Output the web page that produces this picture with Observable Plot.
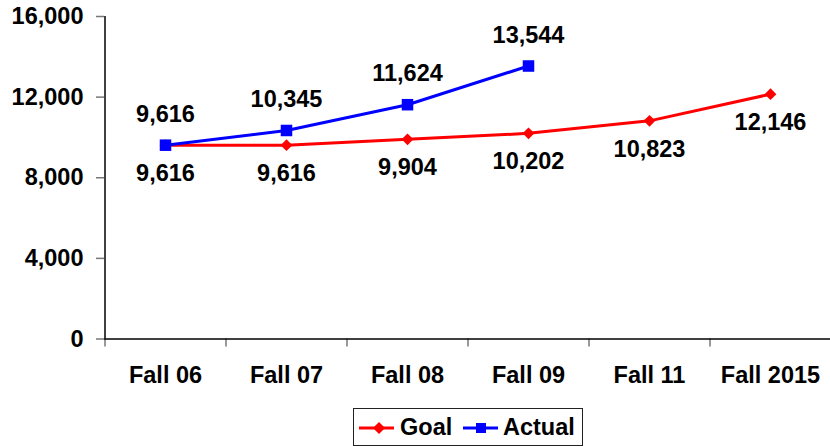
<!DOCTYPE html>
<html>
<head>
<meta charset="utf-8">
<script src="https://cdn.jsdelivr.net/npm/d3@7"></script>
<script src="https://cdn.jsdelivr.net/npm/@observablehq/plot@0.6"></script>
<style>
  body { margin: 0; background: #fff; font-family: "Liberation Sans", Arial, sans-serif; }
  #wrap { position: relative; width: 830px; height: 447px; }
  #legend {
    position: absolute; left: 353px; top: 408px; width: 228px; height: 36px;
    border: 1px solid #222; box-sizing: content-box;
    font-weight: bold; font-size: 23.5px; color: #000;
  }
  #legend .sym { position: absolute; top: 12px; }
  #legend .lab { position: absolute; top: 5px; line-height: 27px; }
</style>
</head>
<body>
<div id="wrap"><div id="chart"></div><div id="legend"></div></div>
<script>
const categories = ["Fall 06", "Fall 07", "Fall 08", "Fall 09", "Fall 11", "Fall 2015"];
const goalValues = [9616, 9616, 9904, 10202, 10823, 12146];
const actualCategories = ["Fall 06", "Fall 07", "Fall 08", "Fall 09"];
const actualValues = [9616, 10345, 11624, 13544];
const yTicks = [0, 4000, 8000, 12000, 16000];

const goal = categories.map((c, i) => ({cat: c, value: goalValues[i]}));
const actual = actualCategories.map((c, i) => ({cat: c, value: actualValues[i]}));

const W = 830, H = 404, mL = 104, mR = 0, mT = 16, mB = 65.5;
const step = (W - mL - mR) / categories.length;
const fmt = d3.format(",");
const RED = "#ff0000", BLUE = "#0000ff";
const FS = 23.5;

const chart = Plot.plot({
  width: W, height: H,
  marginLeft: mL, marginRight: mR, marginTop: mT, marginBottom: mB,
  style: {fontFamily: "'Liberation Sans', Arial, sans-serif", fontSize: FS + "px", fontWeight: "bold", color: "#000", background: "#fff"},
  x: {type: "point", domain: categories, padding: 0.5, label: null},
  y: {domain: [0, 16000], label: null},
  marks: [
    Plot.axisY({ticks: yTicks, tickSize: 8, tickPadding: 13, tickFormat: fmt, stroke: "#777", strokeWidth: 1.5, fill: "#000", label: null}),
    Plot.axisX({tickSize: 8, tickFormat: () => "", dx: -step / 2, stroke: "#777", strokeWidth: 1.5, label: null}),
    Plot.axisX({tickSize: 0, tickPadding: 27, fill: "#000", label: null}),
    Plot.ruleY([0], {stroke: "#000", strokeWidth: 1.5}),
    Plot.ruleX([categories[0]], {y1: 0, y2: 16000, dx: -step / 2, stroke: "#000", strokeWidth: 1.5}),
    Plot.line(goal, {x: "cat", y: "value", stroke: RED, strokeWidth: 3}),
    Plot.dot(goal, {x: "cat", y: "value", symbol: "diamond2", r: 5.3, fill: RED, stroke: null}),
    Plot.line(actual, {x: "cat", y: "value", stroke: BLUE, strokeWidth: 3}),
    Plot.dot(actual, {x: "cat", y: "value", symbol: "square", r: 6.5, fill: BLUE, stroke: null}),
    Plot.text(goal, {x: "cat", y: "value", text: d => fmt(d.value), dy: 28.5, fill: "#000", fontSize: FS, fontWeight: "bold"}),
    Plot.text(actual, {x: "cat", y: "value", text: d => fmt(d.value), dy: -31, fill: "#000", fontSize: FS, fontWeight: "bold"})
  ]
});
document.getElementById("chart").appendChild(chart);

const legend = document.getElementById("legend");
function legendItem(color, shape, label, symLeft, labLeft) {
  const shapeSvg = shape === "diamond"
    ? `<polygon points="20,1 26,7 20,13 14,7" fill="${color}"/>`
    : `<rect x="13" y="2" width="10" height="10" fill="${color}"/>`;
  const sym = document.createElement("div");
  sym.className = "sym";
  sym.style.left = symLeft + "px";
  sym.innerHTML = `<svg width="35" height="14" style="display:block"><line x1="0" y1="7" x2="35" y2="7" stroke="${color}" stroke-width="3"/>${shapeSvg}</svg>`;
  const lab = document.createElement("div");
  lab.className = "lab";
  lab.style.left = labLeft + "px";
  lab.textContent = label;
  legend.appendChild(sym);
  legend.appendChild(lab);
}
legendItem(RED, "diamond", "Goal", 5, 46);
legendItem(BLUE, "square", "Actual", 109, 149);
</script>
</body>
</html>
